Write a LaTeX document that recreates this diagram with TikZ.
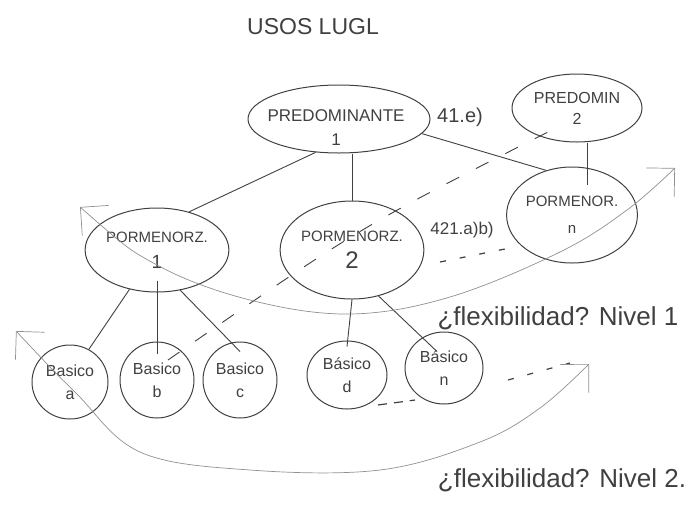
\documentclass[tikz,border=0pt]{standalone}
\usepackage{fontspec}
\setmainfont{Liberation Sans}
\usetikzlibrary{shapes.geometric,arrows.meta}
\definecolor{ink}{HTML}{404040}
\definecolor{pencil}{HTML}{909090}
\begin{document}
\begin{tikzpicture}[x=1pt,y=-1pt,
  shp/.style={ellipse,draw=ink,line width=1pt,inner sep=0pt,align=center,text=ink},
  link/.style={draw=ink,line width=0.9pt},
  dashlink/.style={draw=ink,line width=0.9pt,dash pattern=on 14pt off 19pt},
  dots/.style={draw=ink,line width=1.2pt,dash pattern=on 6pt off 14pt},
  flex/.style={draw=pencil,line width=0.7pt,arrows={Straight Barb[length=20pt,width=40pt]-Straight Barb[length=20pt,width=40pt]}},
  lbl/.style={text=ink,inner sep=0pt,align=center}]
\useasboundingbox (0,0) rectangle (692,504);

% title
\node[lbl,font=\fontsize{23}{26}\selectfont] (title) at (313,27) {USOS LUGL};

% level "predominante"
\node[shp,minimum width=182pt,minimum height=68pt] (p1) at (339,119) {};
\node[lbl,font=\fontsize{17}{24}\selectfont] (p1t) at (336,128) {PREDOMINANTE\\1};
\node[shp,font=\fontsize{16}{21}\selectfont,minimum width=130pt,minimum height=68pt] (p2) at (577,108) {PREDOMIN\\2};
\node[lbl,font=\fontsize{20}{22}\selectfont] (r1) at (460,117) {41.e)};

% level "pormenor"
\node[shp,font=\fontsize{15}{26}\selectfont,minimum width=114pt,minimum height=84pt] (m1) at (157,250) {PORMENORZ.\\{\fontsize{19}{20}\selectfont 1}};
\node[shp,font=\fontsize{15}{27}\selectfont,minimum width=126pt,minimum height=98pt] (m2) at (352,250) {PORMENORZ.\\{\fontsize{24}{24}\selectfont 2}};
\node[shp,font=\fontsize{15}{27}\selectfont,minimum width=112pt,minimum height=96pt] (mn) at (572,215) {PORMENOR.\\n};
\node[lbl,font=\fontsize{17}{19}\selectfont] (r2) at (462,230) {421.a)b)};

% level "basico"
\node[shp,font=\fontsize{16}{23}\selectfont,minimum width=76pt,minimum height=74pt] (ba) at (70,382) {Basico\\a};
\node[shp,font=\fontsize{16}{23}\selectfont,minimum width=74pt,minimum height=76pt] (bb) at (157,380) {Basico\\b};
\node[shp,font=\fontsize{16}{23}\selectfont,minimum width=74pt,minimum height=76pt] (bc) at (240,380) {Basico\\c};
\node[shp,font=\fontsize{16}{23}\selectfont,minimum width=80pt,minimum height=68pt] (bd) at (347,375) {Básico\\d};
\node[shp,font=\fontsize{16}{23}\selectfont,minimum width=78pt,minimum height=72pt] (bn) at (444,368) {Básico\\n};

% flexibility labels
\node[lbl,font=\fontsize{26}{28}\selectfont] (f1) at (558,318) {¿flexibilidad? Nivel 1};
\node[lbl,font=\fontsize{26}{28}\selectfont] (f2) at (562,480) {¿flexibilidad? Nivel 2.};

% tree connectors
\draw[link] (p1.235) -- (m1.50);
\draw[link] (p1.south -| m2.north) -- (m2.north);
\draw[link] (p1.-10) -- (mn.120);
\draw[link] ([xshift=10pt]p2.south) -- ([xshift=15pt,yshift=-18pt]mn.north);
\draw[link] (m1.235) -- (ba.60);
\draw[link] ([yshift=12pt]m1.south) -- ([yshift=-12pt]bb.north);
\draw[link] (m1.-60) -- ([yshift=-10pt]bc.north);
\draw[link] (m2.south) -- ([yshift=-6pt]bd.north);
\draw[link] (m2.-60) -- ([xshift=-7pt,yshift=-20pt]bn.north);
\draw[dashlink] ([xshift=11pt,yshift=20pt]bb.center) .. controls (360,227) .. ([xshift=-25pt,yshift=-22pt]p2.center);

% continuation dashes
\coordinate (d1a) at (440,262); \coordinate (d1b) at (505,249);
\coordinate (d2a) at (378,405); \coordinate (d2b) at (415,400);
\coordinate (d3a) at (508,380); \coordinate (d3b) at (570,363);
\draw[dots] (d1a) -- (d1b);
\draw[dots,dash pattern=on 9pt off 7pt] (d2a) -- (d2b);
\draw[dots] (d3a) -- (d3b);

% flexibility arcs
\draw[flex] plot[smooth,tension=0.6] coordinates {(80,207) (157,265) (250,300) (350,314) (450,297) (560,252) (627,210) (675,168)};
\draw[flex] plot[smooth,tension=0.6] coordinates {(16,331) (75,392) (140,452) (250,470) (380,470) (480,442) (540,408) (589,364)};
\end{tikzpicture}
\end{document}
